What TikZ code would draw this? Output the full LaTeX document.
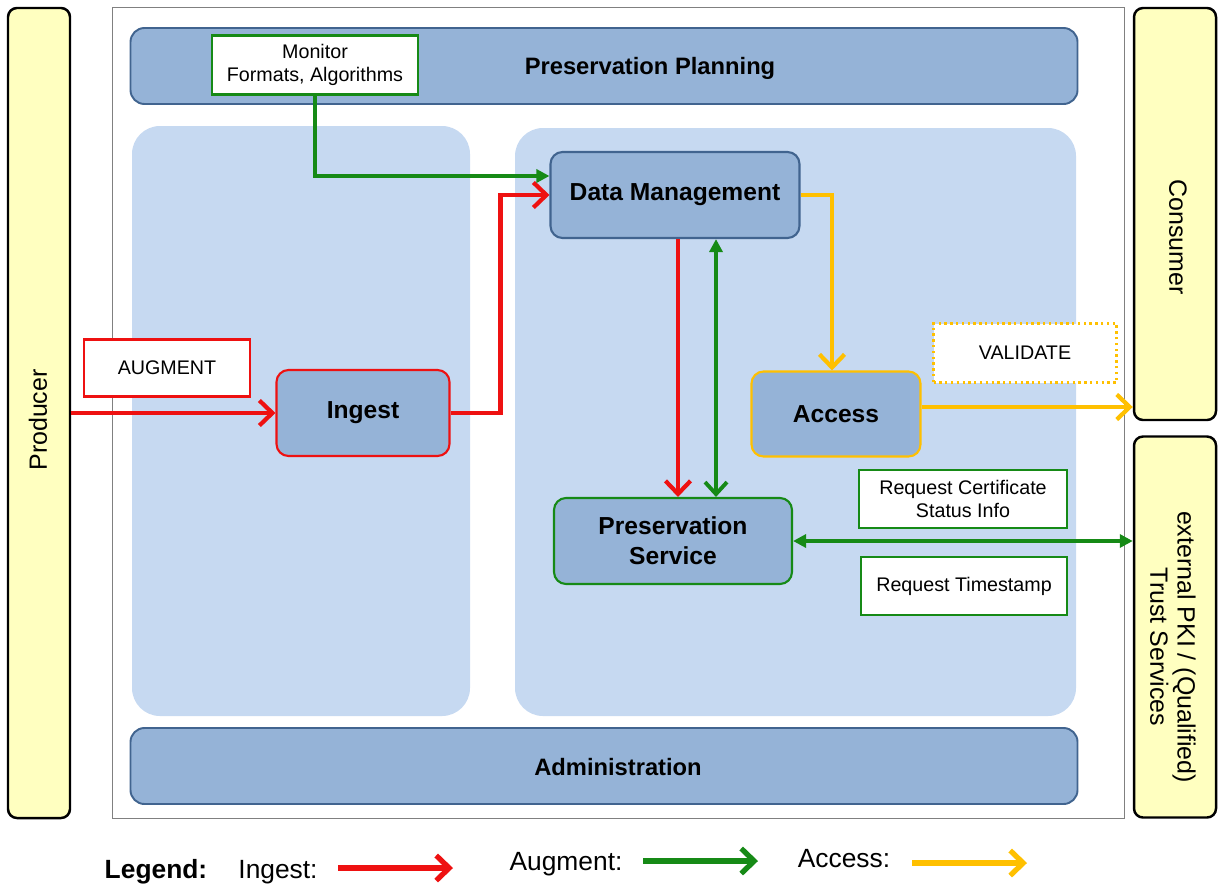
\documentclass[tikz,border=0pt]{standalone}
\usepackage{fontspec}
\setmainfont{Liberation Sans}
\usetikzlibrary{arrows.meta}
\definecolor{boxblue}{HTML}{95B3D7}
\definecolor{boxedge}{HTML}{41648F}
\definecolor{areablue}{HTML}{C6D9F1}
\definecolor{actorfill}{HTML}{FFFFC0}
\definecolor{ingred}{HTML}{EE1111}
\definecolor{auggreen}{HTML}{168A16}
\definecolor{accgold}{HTML}{FFC000}
\tikzset{
	actor/.style={draw=black, line width=1.4pt, fill=actorfill, rounded corners=1.8mm, font=\fontsize{14.2}{15.5}\selectfont},
	bar/.style={draw=boxedge, line width=1.1pt, fill=boxblue, rounded corners=2.8mm, minimum width=189.4mm, minimum height=15.2mm},
	func/.style={draw=boxedge, line width=1.2pt, fill=boxblue, rounded corners=2.4mm, minimum height=17.2mm, font=\fontsize{14}{17}\selectfont\bfseries, align=center},
	tag/.style={draw, line width=1.3pt, fill=white, minimum height=11.6mm, font=\fontsize{11.2}{13}\selectfont, align=center},
	redline/.style={ingred, line width=2.4pt, -{Straight Barb[length=2.6mm,width=5mm]}},
	greenline/.style={auggreen, line width=2.2pt, -{Triangle[length=2.6mm,width=2.6mm]}},
	goldline/.style={accgold, line width=2.4pt, -{Straight Barb[length=2.6mm,width=5mm]}},
	legendtext/.style={font=\fontsize{15}{18}\selectfont, anchor=base}
}
\begin{document}
\begin{tikzpicture}[x=0.2mm, y=-0.2mm]
	\useasboundingbox (0,0) rectangle (1229,893);
	% Rahmen und Bereiche
	\draw[gray, line width=0.5pt] (112,7) rectangle (1124,818);
	\fill[areablue, rounded corners=5.6mm] (132,126) rectangle (470,716);
	\fill[areablue, rounded corners=5.6mm] (515,128) rectangle (1076,716);
	\node[bar] (plan) at (604,66) {};
	\node[font=\fontsize{13.5}{16}\selectfont\bfseries] at (650,68) {Preservation Planning};
	\node[bar] (admin) at (604,766) {};
	\node[font=\fontsize{13.5}{16}\selectfont\bfseries] at (618,767) {Administration};
	% Akteure
	\node[actor, minimum width=12.4mm, minimum height=162mm] (prod) at (39,413) {};
	\node[actor, minimum width=16.4mm, minimum height=82.4mm] (cons) at (1175,214) {};
	\node[actor, minimum width=16.4mm, minimum height=76.2mm] (trust) at (1175,627) {};
	\node[rotate=90, font=\fontsize{14.2}{15.5}\selectfont] at (38,420) {Producer};
	\node[rotate=-90, font=\fontsize{14.2}{15.5}\selectfont] at (1178,237) {Consumer};
	\node[rotate=-90, font=\fontsize{14.2}{15.5}\selectfont, align=center] at (1173,647) {external PKI / (Qualified)\\Trust Services};
	% Funktionen
	\node[func, minimum width=49.8mm] (dm) at (675,195) {Data Management};
	\node[func, draw=ingred, minimum width=34.6mm] (ing) at (363,413) {Ingest};
	\node[func, draw=accgold, minimum width=33.8mm, minimum height=17mm] (acc) at (836,414) {Access};
	\node[func, draw=auggreen, minimum width=47.6mm] (ps) at (673,541) {Preservation\\Service};
	% Beschriftungen
	\node[tag, draw=auggreen, minimum width=41.2mm, minimum height=11.8mm, inner sep=1pt] (mon) at (315,65) {Monitor\\Formats, Algorithms};
	\node[tag, draw=ingred, minimum width=33.2mm, minimum height=11.4mm] (aug) at (167,368) {AUGMENT};
	\node[tag, draw=accgold, dotted, line width=1.6pt, minimum width=36.6mm, minimum height=11.8mm] (val) at (1025,353) {VALIDATE};
	\node[tag, draw=auggreen, minimum width=41.6mm, inner sep=1pt] (rcs) at (963,499) {Request Certificate\\Status Info};
	\node[tag, draw=auggreen, minimum width=41.2mm] (rts) at (964,586) {Request Timestamp};
	% Pfeile
	\draw[redline] (prod.east) -- (ing.west);
	\draw[redline] (ing.east) -- ++(50,0) |- (dm.west);
	\draw[redline] ([xshift=0.6mm]dm.south) -- ([xshift=0.6mm]dm.south |- ps.north);
	\draw[greenline] (mon.south) |- ([yshift=3.8mm]dm.west);
	\draw[greenline, {Straight Barb[length=2.4mm,width=4.4mm]}-{Triangle[length=2.6mm,width=2.6mm]}] ([xshift=8.2mm]dm.south |- ps.north) -- ([xshift=8.2mm]dm.south);
	\draw[greenline, {Triangle[length=2.6mm,width=2.6mm]}-{Triangle[length=2.6mm,width=2.6mm]}] (ps.east) -- (ps.east -| trust.west);
	\draw[goldline] (dm.east) -| ([xshift=-0.8mm]acc.north);
	\draw[goldline] ([yshift=1.4mm]acc.east) -- ([yshift=1.4mm]acc.east -| cons.west);
	% Legende
	\node[legendtext, font=\fontsize{15}{18}\selectfont\bfseries] (leg) at (156,878) {Legend:};
	\node[legendtext] (legi) at (278,878) {Ingest:};
	\coordinate (ia) at (338,868);
	\coordinate (ib) at (453,868);
	\draw[redline, line width=3pt] (ia) -- (ib);
	\node[legendtext] (lega) at (566,870) {Augment:};
	\coordinate (ga) at (643,861);
	\coordinate (gb) at (758,861);
	\draw[auggreen, line width=3pt, -{Straight Barb[length=2.6mm,width=5mm]}] (ga) -- (gb);
	\node[legendtext] (legc) at (844,867) {Access:};
	\coordinate (aa) at (912,863);
	\coordinate (ab) at (1027,863);
	\draw[goldline, line width=3pt] (aa) -- (ab);
\end{tikzpicture}
\end{document}
